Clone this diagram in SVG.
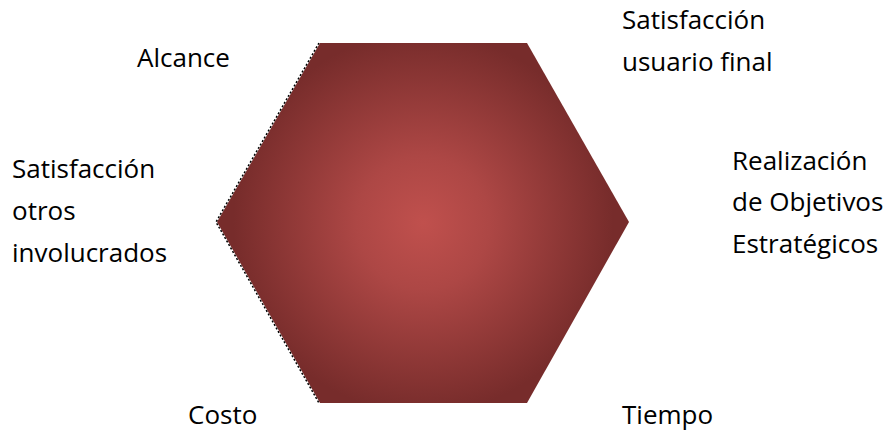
<svg xmlns="http://www.w3.org/2000/svg" width="887" height="431" viewBox="0 0 887 431">
<style>
.t{font-family:"Open Sans","Liberation Sans",sans-serif;font-size:26px;fill:#000}
</style>
<defs>
<radialGradient id="g" cx="423" cy="223" r="190" gradientUnits="userSpaceOnUse">
<stop offset="0" stop-color="#c0504d"/>
<stop offset="0.35" stop-color="#ad4745"/>
<stop offset="1" stop-color="#772c2b"/>
</radialGradient>
</defs>
<rect width="887" height="431" fill="#fff"/>
<g id="hexagon">
<polygon points="320,43 527,43 629,222 527,403 320,403 217,222" fill="url(#g)"/>
<polyline points="319,43 216,222 319,403" fill="none" stroke="#000" stroke-width="1.5" stroke-dasharray="2 2"/>
</g>
<g id="labels">
<g id="alcance"><text class="t" x="137" y="67">Alcance</text></g>
<g id="usuario"><text class="t" x="622" y="29">Satisfacción</text><text class="t" x="622" y="71">usuario final</text></g>
<g id="objetivos"><text class="t" x="732" y="170">Realización</text><text class="t" x="732" y="211">de Objetivos</text><text class="t" x="732" y="253">Estratégicos</text></g>
<g id="otros"><text class="t" x="12" y="178">Satisfacción</text><text class="t" x="12" y="220">otros</text><text class="t" x="12" y="262">involucrados</text></g>
<g id="costo"><text class="t" x="188" y="424">Costo</text></g>
<g id="tiempo"><text class="t" x="622" y="424">Tiempo</text></g>
</g>
</svg>
